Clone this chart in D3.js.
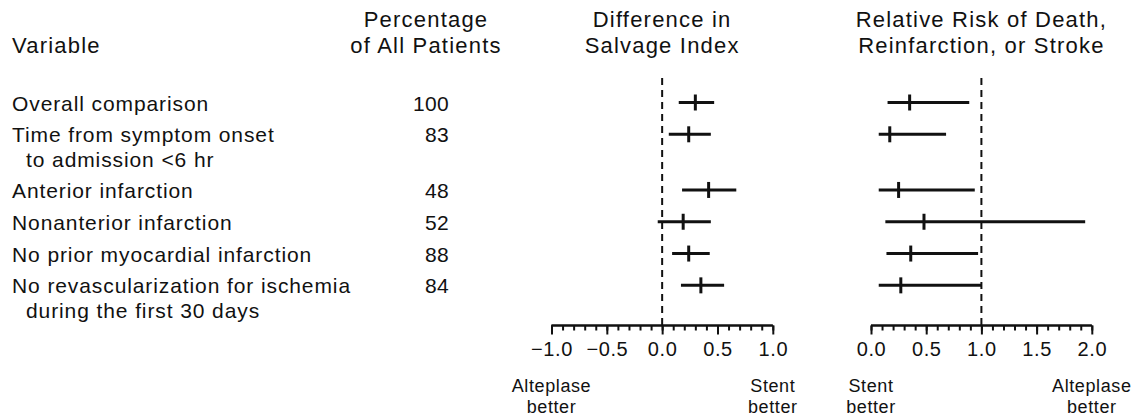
<!DOCTYPE html>
<html>
<head>
<meta charset="utf-8">
<script src="https://cdn.jsdelivr.net/npm/d3@7"></script>
<style>
  body { margin: 0; background: #fff; }
  svg text { font-family: "Liberation Sans", Arial, sans-serif; fill: #111; }
</style>
</head>
<body>
<svg id="chart"></svg>
<script>
// data
var variables = [
  ["Overall comparison"],
  ["Time from symptom onset", "to admission <6 hr"],
  ["Anterior infarction"],
  ["Nonanterior infarction"],
  ["No prior myocardial infarction"],
  ["No revascularization for ischemia", "during the first 30 days"]
];
var percentages = [100, 83, 48, 52, 88, 84];
var salvageEst = [0.30, 0.24, 0.42, 0.19, 0.24, 0.35];
var salvageLow = [0.15, 0.06, 0.18, -0.04, 0.09, 0.17];
var salvageHigh = [0.47, 0.44, 0.67, 0.44, 0.43, 0.56];
var riskEst = [0.35, 0.17, 0.25, 0.48, 0.36, 0.27];
var riskLow = [0.15, 0.07, 0.07, 0.13, 0.14, 0.07];
var riskHigh = [0.89, 0.68, 0.94, 1.94, 0.97, 1.00];
var salvageTicks = [-1.0, -0.5, 0.0, 0.5, 1.0];
var riskTicks = [0.0, 0.5, 1.0, 1.5, 2.0];

var width = 1135, height = 419;
var svg = d3.select("#chart").attr("width", width).attr("height", height);

// row slots: a two-line label pushes the next row down
var slots = [];
var s = 0;
variables.forEach(function(v) { slots.push(s); s += 1 + 0.75 * (v.length - 1); });
var y = d3.scaleLinear().domain([0, 1]).range([102.5, 134.3]);
var axisY = 325.5;
var topY = 78;

var xS = d3.scaleLinear().domain([-1, 1]).range([551.5, 772.8]);
var xR = d3.scaleLinear().domain([0, 2]).range([871, 1091.8]);

// headers
function header(lines, x, anchor) {
  var t = svg.append("text").attr("x", x).attr("text-anchor", anchor)
    .style("font-size", "22px").style("letter-spacing", "1.2px");
  var y0 = lines.length == 2 ? 27 : 53;
  lines.forEach(function(l, i) {
    t.append("tspan").attr("x", x).attr("y", y0 + i * 26).text(l);
  });
}
header(["Variable"], 12, "start");
header(["Percentage", "of All Patients"], 426, "middle");
header(["Difference in", "Salvage Index"], xS(0), "middle");
header(["Relative Risk of Death,", "Reinfarction, or Stroke"], xR(1), "middle");

// row labels and percentages
variables.forEach(function(lines, i) {
  var yy = y(slots[i]);
  lines.forEach(function(l, j) {
    svg.append("text").attr("x", j == 0 ? 12 : 26).attr("y", yy + 8 + j * 25)
      .style("font-size", "21px").style("letter-spacing", "0.9px").text(l);
  });
  svg.append("text").attr("x", 449).attr("y", yy + 8).attr("text-anchor", "end")
    .style("font-size", "21px").style("letter-spacing", "0.3px").text(percentages[i]);
});

function panel(x, ticks, refVal, est, lo, hi, leftLab, rightLab) {
  var g = svg.append("g");
  // reference line
  g.append("line").attr("x1", x(refVal)).attr("x2", x(refVal))
    .attr("y1", topY).attr("y2", axisY)
    .attr("stroke", "#111").attr("stroke-width", 2).attr("stroke-dasharray", "7,5");
  // axis with minor ticks
  var axis = d3.axisBottom(x).tickValues(d3.range(x.domain()[0], x.domain()[1] + 0.001, 0.1))
    .tickSize(5).tickFormat("");
  var ag = g.append("g").attr("transform", "translate(0," + axisY + ")").call(axis);
  var major = d3.axisBottom(x).tickValues(ticks).tickSize(9).tickPadding(7)
    .tickFormat(function(d) { return d3.format(".1f")(d).replace("-", "\u2212"); });
  var mg = g.append("g").attr("transform", "translate(0," + axisY + ")").call(major);
  [ag, mg].forEach(function(a) {
    a.select(".domain").attr("stroke", "#111").attr("stroke-width", 2)
      .attr("d", "M" + x.range()[0] + ",0H" + x.range()[1]);
    a.selectAll(".tick line").attr("stroke", "#111").attr("stroke-width", 2);
  });
  mg.selectAll(".tick text").style("font-size", "20px").style("letter-spacing", "0.6px")
    .attr("font-family", null).attr("fill", "#111");
  // intervals
  variables.forEach(function(v, i) {
    var yy = y(slots[i]);
    g.append("line").attr("x1", x(lo[i])).attr("x2", x(hi[i])).attr("y1", yy).attr("y2", yy)
      .attr("stroke", "#111").attr("stroke-width", 3);
    g.append("line").attr("x1", x(est[i])).attr("x2", x(est[i])).attr("y1", yy - 8).attr("y2", yy + 8)
      .attr("stroke", "#111").attr("stroke-width", 3);
  });
  // direction labels
  [[x.domain()[0], leftLab], [x.domain()[1], rightLab]].forEach(function(p) {
    var t = g.append("text").attr("text-anchor", "middle").style("font-size", "18px")
      .style("letter-spacing", "0.6px");
    p[1].forEach(function(l, j) {
      t.append("tspan").attr("x", x(p[0])).attr("y", 392 + j * 21).text(l);
    });
  });
}
panel(xS, salvageTicks, 0, salvageEst, salvageLow, salvageHigh, ["Alteplase", "better"], ["Stent", "better"]);
panel(xR, riskTicks, 1, riskEst, riskLow, riskHigh, ["Stent", "better"], ["Alteplase", "better"]);
</script>
</body>
</html>
